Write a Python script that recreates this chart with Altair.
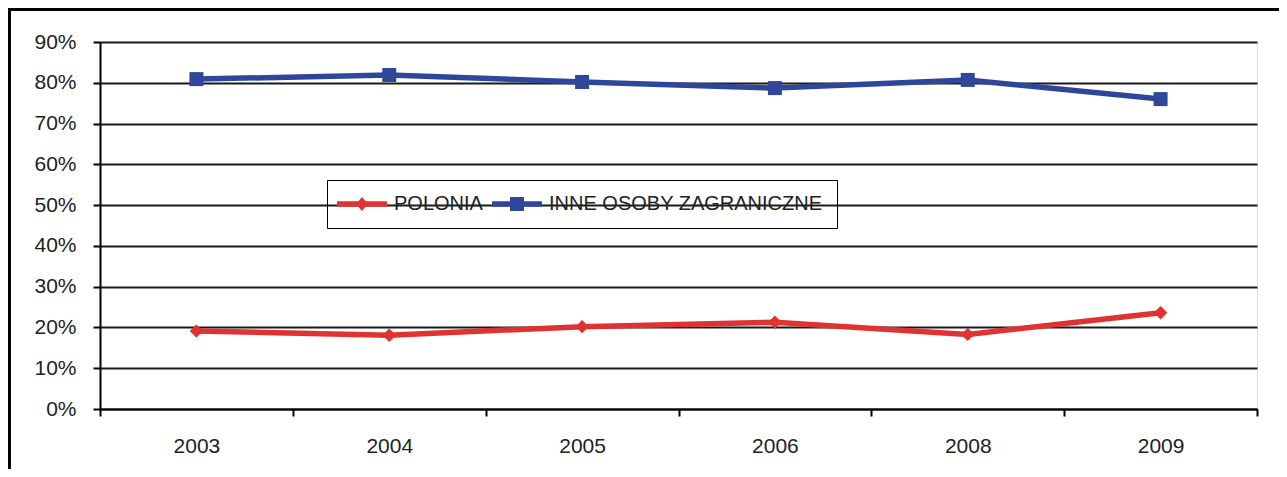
import altair as alt
import pandas as pd

years = ["2003", "2004", "2005", "2006", "2008", "2009"]
polonia = [19.1, 18.1, 20.2, 21.3, 18.3, 23.6]
inne = [80.9, 81.9, 80.2, 78.7, 80.7, 76.0]
series_names = ["POLONIA", "INNE OSOBY ZAGRANICZNE"]
series_colors = ["#E03232", "#2E479B"]
y_ticks = [0, 10, 20, 30, 40, 50, 60, 70, 80, 90]

df = pd.DataFrame({
    "year": years * 2,
    "value": polonia + inne,
    "series": [series_names[0]] * len(years) + [series_names[1]] * len(years),
})

FONT = "Liberation Sans"
TXT = "#222222"

# legend symbols: line sample with marker
red_sym = "M-3.57,-0.38L3.57,-0.38L3.57,0.38L-3.57,0.38Z M-0.86,0L0,-1L0.86,0L0,1Z"
blue_sym = "M-3.57,-0.38L3.57,-0.38L3.57,0.38L-3.57,0.38Z M-1,-1L1,-1L1,1L-1,1Z"

x_enc = alt.X(
    "year:N", sort=years, title=None,
    scale=alt.Scale(type="band", paddingInner=0, paddingOuter=0),
    axis=alt.Axis(
        grid=False, domainColor="black", domainWidth=2, tickColor="black",
        tickWidth=2, tickSize=7, tickBand="extent", labelAngle=0,
        labelFont=FONT, labelFontSize=21, labelColor=TXT, labelPadding=19,
    ),
)
y_enc = alt.Y(
    "value:Q", title=None,
    scale=alt.Scale(domain=[0, 90], nice=False, zero=True),
    axis=alt.Axis(
        values=y_ticks, labelExpr="datum.value + '%'",
        grid=True, gridColor="#1a1a1a", gridWidth=2,
        domainColor="black", domainWidth=2, tickColor="black", tickWidth=2,
        tickSize=7, labelFont=FONT, labelFontSize=21, labelColor=TXT,
        labelPadding=17,
    ),
)

base = alt.Chart(df)

layers = []
shapes = ["diamond", "square"]
sizes = [180, 196]
for name, col, shp, sz in zip(series_names, series_colors, shapes, sizes):
    sub = base.transform_filter(alt.datum.series == name)
    layers.append(sub.mark_line(strokeWidth=5.5, color=col).encode(x=x_enc, y=y_enc))
    layers.append(
        sub.mark_point(shape=shp, filled=True, size=sz, opacity=1, color=col)
        .encode(x=x_enc, y=y_enc)
    )

legend = alt.Legend(
    orient="none", legendX=227, legendY=138, direction="horizontal",
    title=None, labelFont=FONT, labelFontSize=20, labelColor=TXT,
    symbolSize=196, symbolOffset=11, labelOffset=22, padding=14,
    strokeColor="black", columnPadding=9, symbolStrokeWidth=0,
    labelLimit=1000,
)
legend_layer = base.transform_filter("false").mark_point(
    filled=True, opacity=1
).encode(
    x=x_enc, y=y_enc,
    color=alt.Color(
        "series:N", scale=alt.Scale(domain=series_names, range=series_colors),
        legend=legend,
    ),
    shape=alt.Shape(
        "series:N",
        scale=alt.Scale(domain=series_names, range=[red_sym, blue_sym]),
        legend=legend,
    ),
)

frame_data = alt.Data(values=[{}])
frame_left = alt.Chart(frame_data).mark_rule(color="black", strokeWidth=3).encode(
    x=alt.value(-90.5), y=alt.value(-32.5), y2=alt.value(480)
)
frame_top = alt.Chart(frame_data).mark_rule(color="black", strokeWidth=3).encode(
    x=alt.value(-92), x2=alt.value(1200), y=alt.value(-32.5)
)

chart = alt.layer(
    *layers, legend_layer, frame_left, frame_top
).properties(
    width=1157, height=367,
    autosize=alt.AutoSizeParams(type="none"),
    padding={"left": 92, "top": 34, "right": 22, "bottom": 60},
).configure_view(stroke=None).configure(background="white")

chart.save("out.html", embed_options={"renderer": "svg", "actions": False})
